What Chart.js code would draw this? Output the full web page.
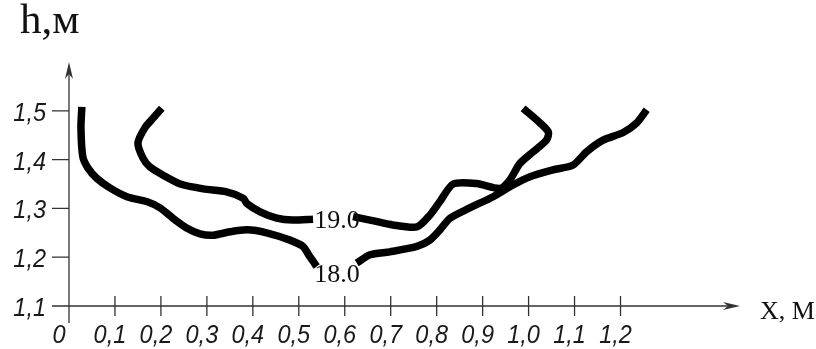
<!DOCTYPE html>
<html>
<head>
<meta charset="utf-8">
<script src="https://cdn.jsdelivr.net/npm/chart.js@4.4.1/dist/chart.umd.min.js"></script>
<style>
  html, body { margin: 0; padding: 0; background: #fff; }
  #wrap { position: relative; width: 816px; height: 349px; }
  canvas { position: absolute; left: 0; top: 0; }
  .axisTitle { position: absolute; font-family: "Liberation Serif", "DejaVu Serif", serif; color: #111; white-space: nowrap; line-height: 1; }
</style>
</head>
<body>
<div id="wrap">
  <canvas id="chart" width="816" height="349"></canvas>
  <div class="axisTitle" id="yTitle" style="left:20px; top:-3px; font-size:43px;">h,м</div>
  <div class="axisTitle" id="xTitle" style="left:760px; top:298px; font-size:26px;">X, М</div>
</div>
<script>
// ===== DATA =====
const xTicks = [0, 0.1, 0.2, 0.3, 0.4, 0.5, 0.6, 0.7, 0.8, 0.9, 1.0, 1.1, 1.2];
const yTicks = [1.1, 1.2, 1.3, 1.4, 1.5];

// isoline 18.0 (outer curve), split where the label sits
const iso18LeftX  = [0.028, 0.026, 0.030, 0.041, 0.060, 0.089, 0.126, 0.169, 0.198, 0.226, 0.256, 0.285, 0.313, 0.350, 0.387, 0.430, 0.481, 0.509, 0.524, 0.539];
const iso18LeftY  = [1.508, 1.465, 1.406, 1.383, 1.362, 1.342, 1.324, 1.314, 1.301, 1.280, 1.260, 1.248, 1.245, 1.252, 1.256, 1.250, 1.235, 1.222, 1.201, 1.181];
const iso18RightX = [0.626, 0.655, 0.698, 0.757, 0.785, 0.807, 0.829, 0.872, 0.923, 0.966, 1.003, 1.053, 1.097, 1.126, 1.162, 1.205, 1.235, 1.257];
const iso18RightY = [1.188, 1.205, 1.211, 1.222, 1.235, 1.256, 1.280, 1.301, 1.324, 1.348, 1.365, 1.379, 1.389, 1.416, 1.440, 1.455, 1.475, 1.502];

// isoline 19.0 (inner curve)
const iso19LeftX  = [0.202, 0.183, 0.165, 0.150, 0.161, 0.176, 0.205, 0.242, 0.292, 0.343, 0.379, 0.387, 0.416, 0.452, 0.487, 0.531];
const iso19LeftY  = [1.505, 1.485, 1.465, 1.434, 1.403, 1.385, 1.368, 1.350, 1.340, 1.334, 1.321, 1.310, 1.293, 1.280, 1.276, 1.278];
const iso19RightX = [0.618, 0.655, 0.705, 0.757, 0.785, 0.807, 0.836, 0.887, 0.938, 0.959, 0.981, 1.010, 1.039, 1.043, 1.018, 0.988];
const iso19RightY = [1.283, 1.276, 1.266, 1.262, 1.286, 1.314, 1.350, 1.351, 1.341, 1.358, 1.392, 1.416, 1.440, 1.457, 1.481, 1.505];

const isoLabels = ['19.0', '18.0'];
const isoLabelX = [0.583, 0.583];
const isoLabelY = [1.276, 1.166];

// ===== HELPERS =====
const pts = (xs, ys) => xs.map((x, i) => ({ x: x, y: ys[i] }));
const fmtTick = (v) => v === 0 ? '0' : v.toFixed(1).replace('.', ',');

const lineSet = (xs, ys) => ({
    data: pts(xs, ys),
    showLine: true,
    borderColor: '#000',
    borderWidth: 7.5,
    borderJoinStyle: 'round',
    borderCapStyle: 'butt',
    pointRadius: 0,
    tension: 0.25,
    fill: false
});

// slightly narrowed italic text, like the font of the original
function narrowText(ctx, text, px, py, align) {
    const k = 0.94;
    ctx.save();
    ctx.translate(px, py);
    ctx.scale(k, 1);
    ctx.textAlign = align;
    ctx.fillText(text, 0, 0);
    ctx.restore();
}

// axes with arrows, crossing ticks, tick labels and the isoline labels
const axesPlugin = {
    id: 'axesPlugin',
    afterDraw(chart) {
        const { ctx, scales: { x, y } } = chart;
        const x0 = x.getPixelForValue(0);
        const y0 = y.getPixelForValue(1.1);
        const xEnd = x.right, yEnd = y.top;
        ctx.save();
        ctx.strokeStyle = '#333';
        ctx.fillStyle = '#333';
        ctx.lineWidth = 1.3;
        ctx.beginPath();
        ctx.moveTo(x0 - 17, y0); ctx.lineTo(xEnd - 4, y0);
        ctx.moveTo(x0, y0 + 17); ctx.lineTo(x0, yEnd + 4);
        yTicks.forEach(v => {
            const py = y.getPixelForValue(v);
            ctx.moveTo(x0 - 17, py); ctx.lineTo(x0, py);
        });
        xTicks.forEach(v => {
            if (v === 0) return;
            const px = x.getPixelForValue(v);
            ctx.moveTo(px, y0 - 10); ctx.lineTo(px, y0 + 10);
        });
        ctx.stroke();

        // arrow heads
        ctx.beginPath();
        ctx.moveTo(xEnd, y0); ctx.lineTo(xEnd - 17, y0 - 4); ctx.lineTo(xEnd - 12, y0); ctx.lineTo(xEnd - 17, y0 + 4); ctx.closePath();
        ctx.moveTo(x0, yEnd); ctx.lineTo(x0 - 4, yEnd + 17); ctx.lineTo(x0, yEnd + 12); ctx.lineTo(x0 + 4, yEnd + 17); ctx.closePath();
        ctx.fill();

        // tick labels
        ctx.fillStyle = '#1a1a1a';
        ctx.font = 'italic 25px "Liberation Sans", Arial, sans-serif';
        ctx.textBaseline = 'alphabetic';
        xTicks.forEach(v => {
            const px = x.getPixelForValue(v) - (v === 0 ? 10 : 5);
            narrowText(ctx, fmtTick(v), px, y0 + 37, 'center');
        });
        yTicks.forEach(v => {
            narrowText(ctx, fmtTick(v), x0 - 23, y.getPixelForValue(v) + 10, 'right');
        });

        // isoline labels
        ctx.fillStyle = '#111';
        ctx.font = '26px "Liberation Serif", "DejaVu Serif", serif';
        ctx.textAlign = 'center';
        ctx.textBaseline = 'middle';
        isoLabels.forEach((t, i) => {
            ctx.fillText(t, x.getPixelForValue(isoLabelX[i]), y.getPixelForValue(isoLabelY[i]) + 1);
        });
        ctx.restore();
    }
};

new Chart(document.getElementById('chart'), {
    type: 'scatter',
    data: {
        datasets: [
            lineSet(iso18LeftX, iso18LeftY),
            lineSet(iso18RightX, iso18RightY),
            lineSet(iso19LeftX, iso19LeftY),
            lineSet(iso19RightX, iso19RightY)
        ]
    },
    options: {
        responsive: false,
        animation: false,
        layout: { padding: { top: 62, right: 76, left: 0, bottom: 0 } },
        plugins: { legend: { display: false }, tooltip: { enabled: false } },
        scales: {
            x: {
                type: 'linear', min: 0, max: 1.46,
                afterBuildTicks: (s) => { s.ticks = xTicks.map(v => ({ value: v })); },
                afterFit: (s) => { s.height = 43; },
                grid: { display: false }, border: { display: false },
                ticks: { display: false }
            },
            y: {
                type: 'linear', min: 1.1, max: 1.6,
                afterBuildTicks: (s) => { s.ticks = yTicks.map(v => ({ value: v })); },
                afterFit: (s) => { s.width = 69; },
                grid: { display: false }, border: { display: false },
                ticks: { display: false }
            }
        }
    },
    plugins: [axesPlugin]
});
</script>
</body>
</html>
